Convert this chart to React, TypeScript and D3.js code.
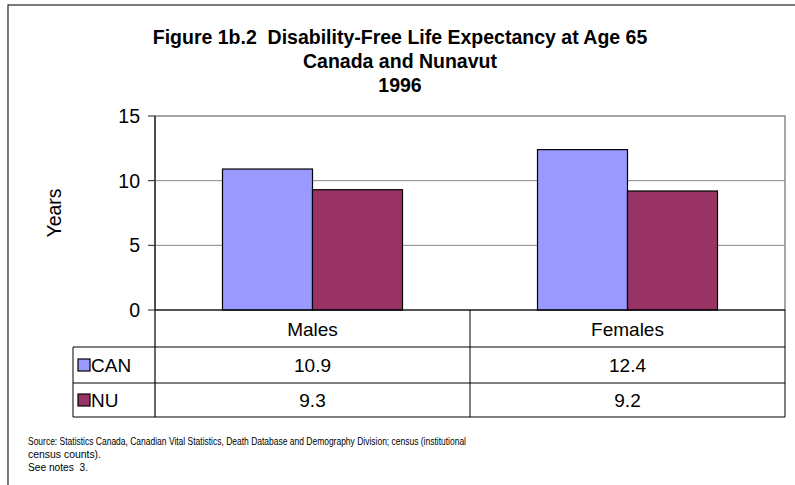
import React from "react";
import * as d3 from "d3";

const categories = ["Males", "Females"];
const seriesNames = ["CAN", "NU"];
const canValues = [10.9, 12.4];
const nuValues = [9.3, 9.2];
const yTicks = [0, 5, 10, 15];
const titleLines = [
  "Figure 1b.2  Disability-Free Life Expectancy at Age 65",
  "Canada and Nunavut",
  "1996",
];
const sourceLines = [
  "Source: Statistics Canada, Canadian Vital Statistics, Death Database and Demography Division; census (institutional",
  "census counts).",
  "See notes  3.",
];
const colors = ["#9999FF", "#993366"];

export default function App() {
  const W = 795, H = 485;
  const plotL = 155, plotR = 785, plotT = 116, plotB = 310;
  const tableL = 73;
  const rowYs = [310, 347, 383, 417];
  const font = "'Liberation Sans', Arial, sans-serif";

  const x0 = d3.scaleBand<string>().domain(categories).range([plotL, plotR]).padding(0);
  const x1 = d3.scaleBand<string>().domain(seriesNames).range([0, x0.bandwidth()]).paddingInner(0).paddingOuter(0.75);
  const y = d3.scaleLinear().domain([0, 15]).range([plotB, plotT]);
  const series = [canValues, nuValues];

  return (
    <svg width={W} height={H} style={{ position: "absolute", left: 0, top: 0 }} fontFamily={font}>
      <rect x={0} y={0} width={W} height={H} fill="#fff" />
      <rect x={8} y={5} width={W + 10} height={H + 10} fill="none" stroke="#222" strokeWidth={1.2} />
      {titleLines.map((t, i) => (
        <text key={i} x={400} y={44 + i * 24} textAnchor="middle" fontWeight="bold" fontSize={19.5}
          style={{ whiteSpace: "pre" }}>{t}</text>
      ))}
      {/* plot area */}
      <rect x={plotL} y={plotT} width={plotR - plotL} height={plotB - plotT} fill="none" stroke="#888" strokeWidth={1.5} />
      {yTicks.filter((t) => t > 0 && t < 15).map((t) => (
        <line key={t} x1={plotL} x2={plotR} y1={y(t)} y2={y(t)} stroke="#888" strokeWidth={1} />
      ))}
      {yTicks.map((t) => (
        <g key={"t" + t}>
          <line x1={plotL - 7} x2={plotL} y1={y(t)} y2={y(t)} stroke="#222" strokeWidth={1} />
          <text x={plotL - 15} y={y(t) + 7} textAnchor="end" fontSize={19.5}>{t}</text>
        </g>
      ))}
      <text transform={`translate(61,${(plotT + plotB) / 2}) rotate(-90)`} textAnchor="middle" fontSize={19.5}>Years</text>
      {categories.map((c, ci) => (
        <g key={c}>
          {seriesNames.map((s, si) => {
            const v = series[si][ci];
            const bx = (x0(c) as number) + (x1(s) as number);
            return (
              <rect key={s} x={bx} y={y(v)} width={x1.bandwidth()} height={plotB - y(v)} fill={colors[si]} stroke="#000" strokeWidth={1.2} />
            );
          })}
        </g>
      ))}
      <line x1={plotL} x2={plotL} y1={plotT} y2={rowYs[3]} stroke="#333" strokeWidth={1.5} />
      <line x1={plotL} x2={plotR} y1={plotB} y2={plotB} stroke="#000" strokeWidth={1.2} />
      {/* table */}
      <line x1={tableL} x2={plotR} y1={rowYs[1]} y2={rowYs[1]} stroke="#000" strokeWidth={1} />
      <line x1={tableL} x2={plotR} y1={rowYs[2]} y2={rowYs[2]} stroke="#000" strokeWidth={1} />
      <line x1={tableL} x2={plotR} y1={rowYs[3]} y2={rowYs[3]} stroke="#000" strokeWidth={1} />
      <line x1={tableL} x2={tableL} y1={rowYs[1]} y2={rowYs[3]} stroke="#000" strokeWidth={1} />
      <line x1={plotR} x2={plotR} y1={plotB} y2={rowYs[3]} stroke="#000" strokeWidth={1} />
      {categories.slice(1).map((c) => (
        <line key={c} x1={x0(c) as number} x2={x0(c) as number} y1={plotB} y2={rowYs[3]} stroke="#000" strokeWidth={1} />
      ))}
      {categories.map((c) => (
        <text key={c} x={(x0(c) as number) + x0.bandwidth() / 2} y={(rowYs[0] + rowYs[1]) / 2 + 7} textAnchor="middle" fontSize={19}>{c}</text>
      ))}
      {seriesNames.map((s, si) => {
        const cy = (rowYs[si + 1] + rowYs[si + 2]) / 2;
        return (
          <g key={s}>
            <rect x={78} y={cy - 6} width={12} height={12} fill={colors[si]} stroke="#000" strokeWidth={1.2} />
            <text x={91} y={cy + 7} fontSize={19}>{s}</text>
            {categories.map((c, ci) => (
              <text key={c} x={(x0(c) as number) + x0.bandwidth() / 2} y={cy + 7} textAnchor="middle" fontSize={19}>{series[si][ci].toFixed(1)}</text>
            ))}
          </g>
        );
      })}
      {sourceLines.map((t, i) => (
        <text key={i} x={28} y={445 + i * 13} fontSize={10.5} style={{ whiteSpace: "pre" }}
          textLength={[438, 73, 60][i]} lengthAdjust="spacingAndGlyphs">{t}</text>
      ))}
    </svg>
  );
}
